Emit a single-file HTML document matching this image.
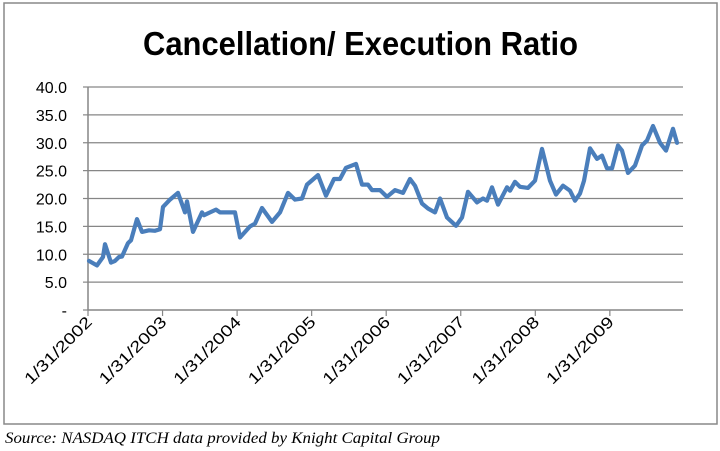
<!DOCTYPE html>
<html><head><meta charset="utf-8"><style>
body{margin:0;background:#fff;}
svg{display:block;font-family:"Liberation Sans",sans-serif;}
</style></head><body>
<svg width="720" height="451" viewBox="0 0 720 451">
<rect x="4" y="3" width="713" height="421" fill="#fff" stroke="#888" stroke-width="1.5"/>
<text x="143" y="55" font-size="33" font-weight="bold" fill="#000" textLength="435" lengthAdjust="spacingAndGlyphs">Cancellation/ Execution Ratio</text>
<g id="grid"></g><g id="axes"></g><g id="series"></g>
<text x="5" y="443" font-family="Liberation Serif,serif" font-style="italic" font-size="16" fill="#000" textLength="435" lengthAdjust="spacingAndGlyphs">Source:  NASDAQ ITCH data provided by Knight Capital Group</text>
</svg>
<script>
const yTicks=[0,5,10,15,20,25,30,35,40];
const yTickLabels=["-","5.0","10.0","15.0","20.0","25.0","30.0","35.0","40.0"];
const xTickYears=[0,1,2,3,4,5,6,7];
const xTickLabels=["1/31/2002","1/31/2003","1/31/2004","1/31/2005","1/31/2006","1/31/2007","1/31/2008","1/31/2009"];
const px=[89,97,103,105,111,115,119,122,128,131,137,142,149,155,160,163,170,178,185,187,193,202,204,210,216,220,235,240,250,255,262,272,280,288,295,302,307,318,326,334,340,346,356,362,368,372,380,387,395,403,410,415,422,428,435,440,447,456,462,468,477,483,487,492,498,507,510,515,520,528,535,542,550,556,563,570,575,580,584,590,597,602,607,612,618,622,628,635,642,647,653,660,666,673,677];
const dates=px.map(p=>(p-88)/74.55);
const values=[8.8,8.0,9.5,11.8,8.5,8.8,9.5,9.6,12,12.5,16.3,14,14.3,14.2,14.5,18.5,19.8,21,17.5,19.5,14,17.5,17,17.5,18,17.5,17.5,13,15,15.5,18.3,15.8,17.5,21,19.8,20,22.5,24.2,20.5,23.5,23.5,25.5,26.2,22.5,22.5,21.5,21.5,20.3,21.5,21,23.5,22.3,19.1,18.2,17.5,20,16.6,15.1,16.6,21.2,19.3,20,19.6,22,18.9,22,21.4,23,22.1,21.9,23.2,28.9,23.2,20.7,22.3,21.4,19.6,20.9,23.2,29,27.1,27.7,25.4,25.4,29.5,28.6,24.6,25.9,29.5,30.4,33,30,28.6,32.5,30];
const NS="http://www.w3.org/2000/svg";
const x0=88,x1=683,y0=310,y40=87;
const X=t=>x0+t*74.55;
const Y=v=>y0-(v/40)*(y0-y40);
function mk(tag,attrs,parent){const e=document.createElementNS(NS,tag);for(const k in attrs)e.setAttribute(k,attrs[k]);parent.appendChild(e);return e;}
const grid=document.getElementById('grid'),axes=document.getElementById('axes'),series=document.getElementById('series');
yTicks.forEach((v,i)=>{
 if(v>0){const g=mk('line',{x1:x0,x2:x1,y1:Y(v),y2:Y(v),stroke:'#868686','stroke-width':1.2},grid);
 
 }
 const tk=mk('line',{x1:x0-5,x2:x0,y1:Y(v),y2:Y(v),stroke:'#868686','stroke-width':1.2},axes);
 
 
 const t=mk('text',{x:67,y:Y(v)+6,'text-anchor':'end','font-size':16,fill:'#000'},axes);
 t.textContent=yTickLabels[i];
 
 
});
const ya=mk('line',{x1:x0,x2:x0,y1:y40,y2:y0,stroke:'#868686','stroke-width':1.5},axes);


const xa=mk('line',{x1:x0,x2:x1,y1:y0,y2:y0,stroke:'#868686','stroke-width':1.5},axes);


xTickYears.forEach((yr,i)=>{
 const xx=X(yr);
 const tk=mk('line',{x1:xx,x2:xx,y1:y0,y2:y0+6,stroke:'#868686','stroke-width':1.2},axes);
 
 
 const t=mk('text',{x:xx+5,y:y0+13,'text-anchor':'end','font-size':16,fill:'#000',textLength:88,lengthAdjust:'spacingAndGlyphs',transform:`rotate(-45 ${xx+5} ${y0+13})`},axes);
 t.textContent=xTickLabels[i];
 
 
});
const d=dates.map((t,i)=>(i?'L':'M')+X(t).toFixed(1)+','+Y(values[i]).toFixed(1)).join(' ');
const p=mk('path',{d:d,fill:'none',stroke:'#4a7ebb','stroke-width':4.2,'stroke-linejoin':'round','stroke-linecap':'round'},series);


</script>
</body></html>
